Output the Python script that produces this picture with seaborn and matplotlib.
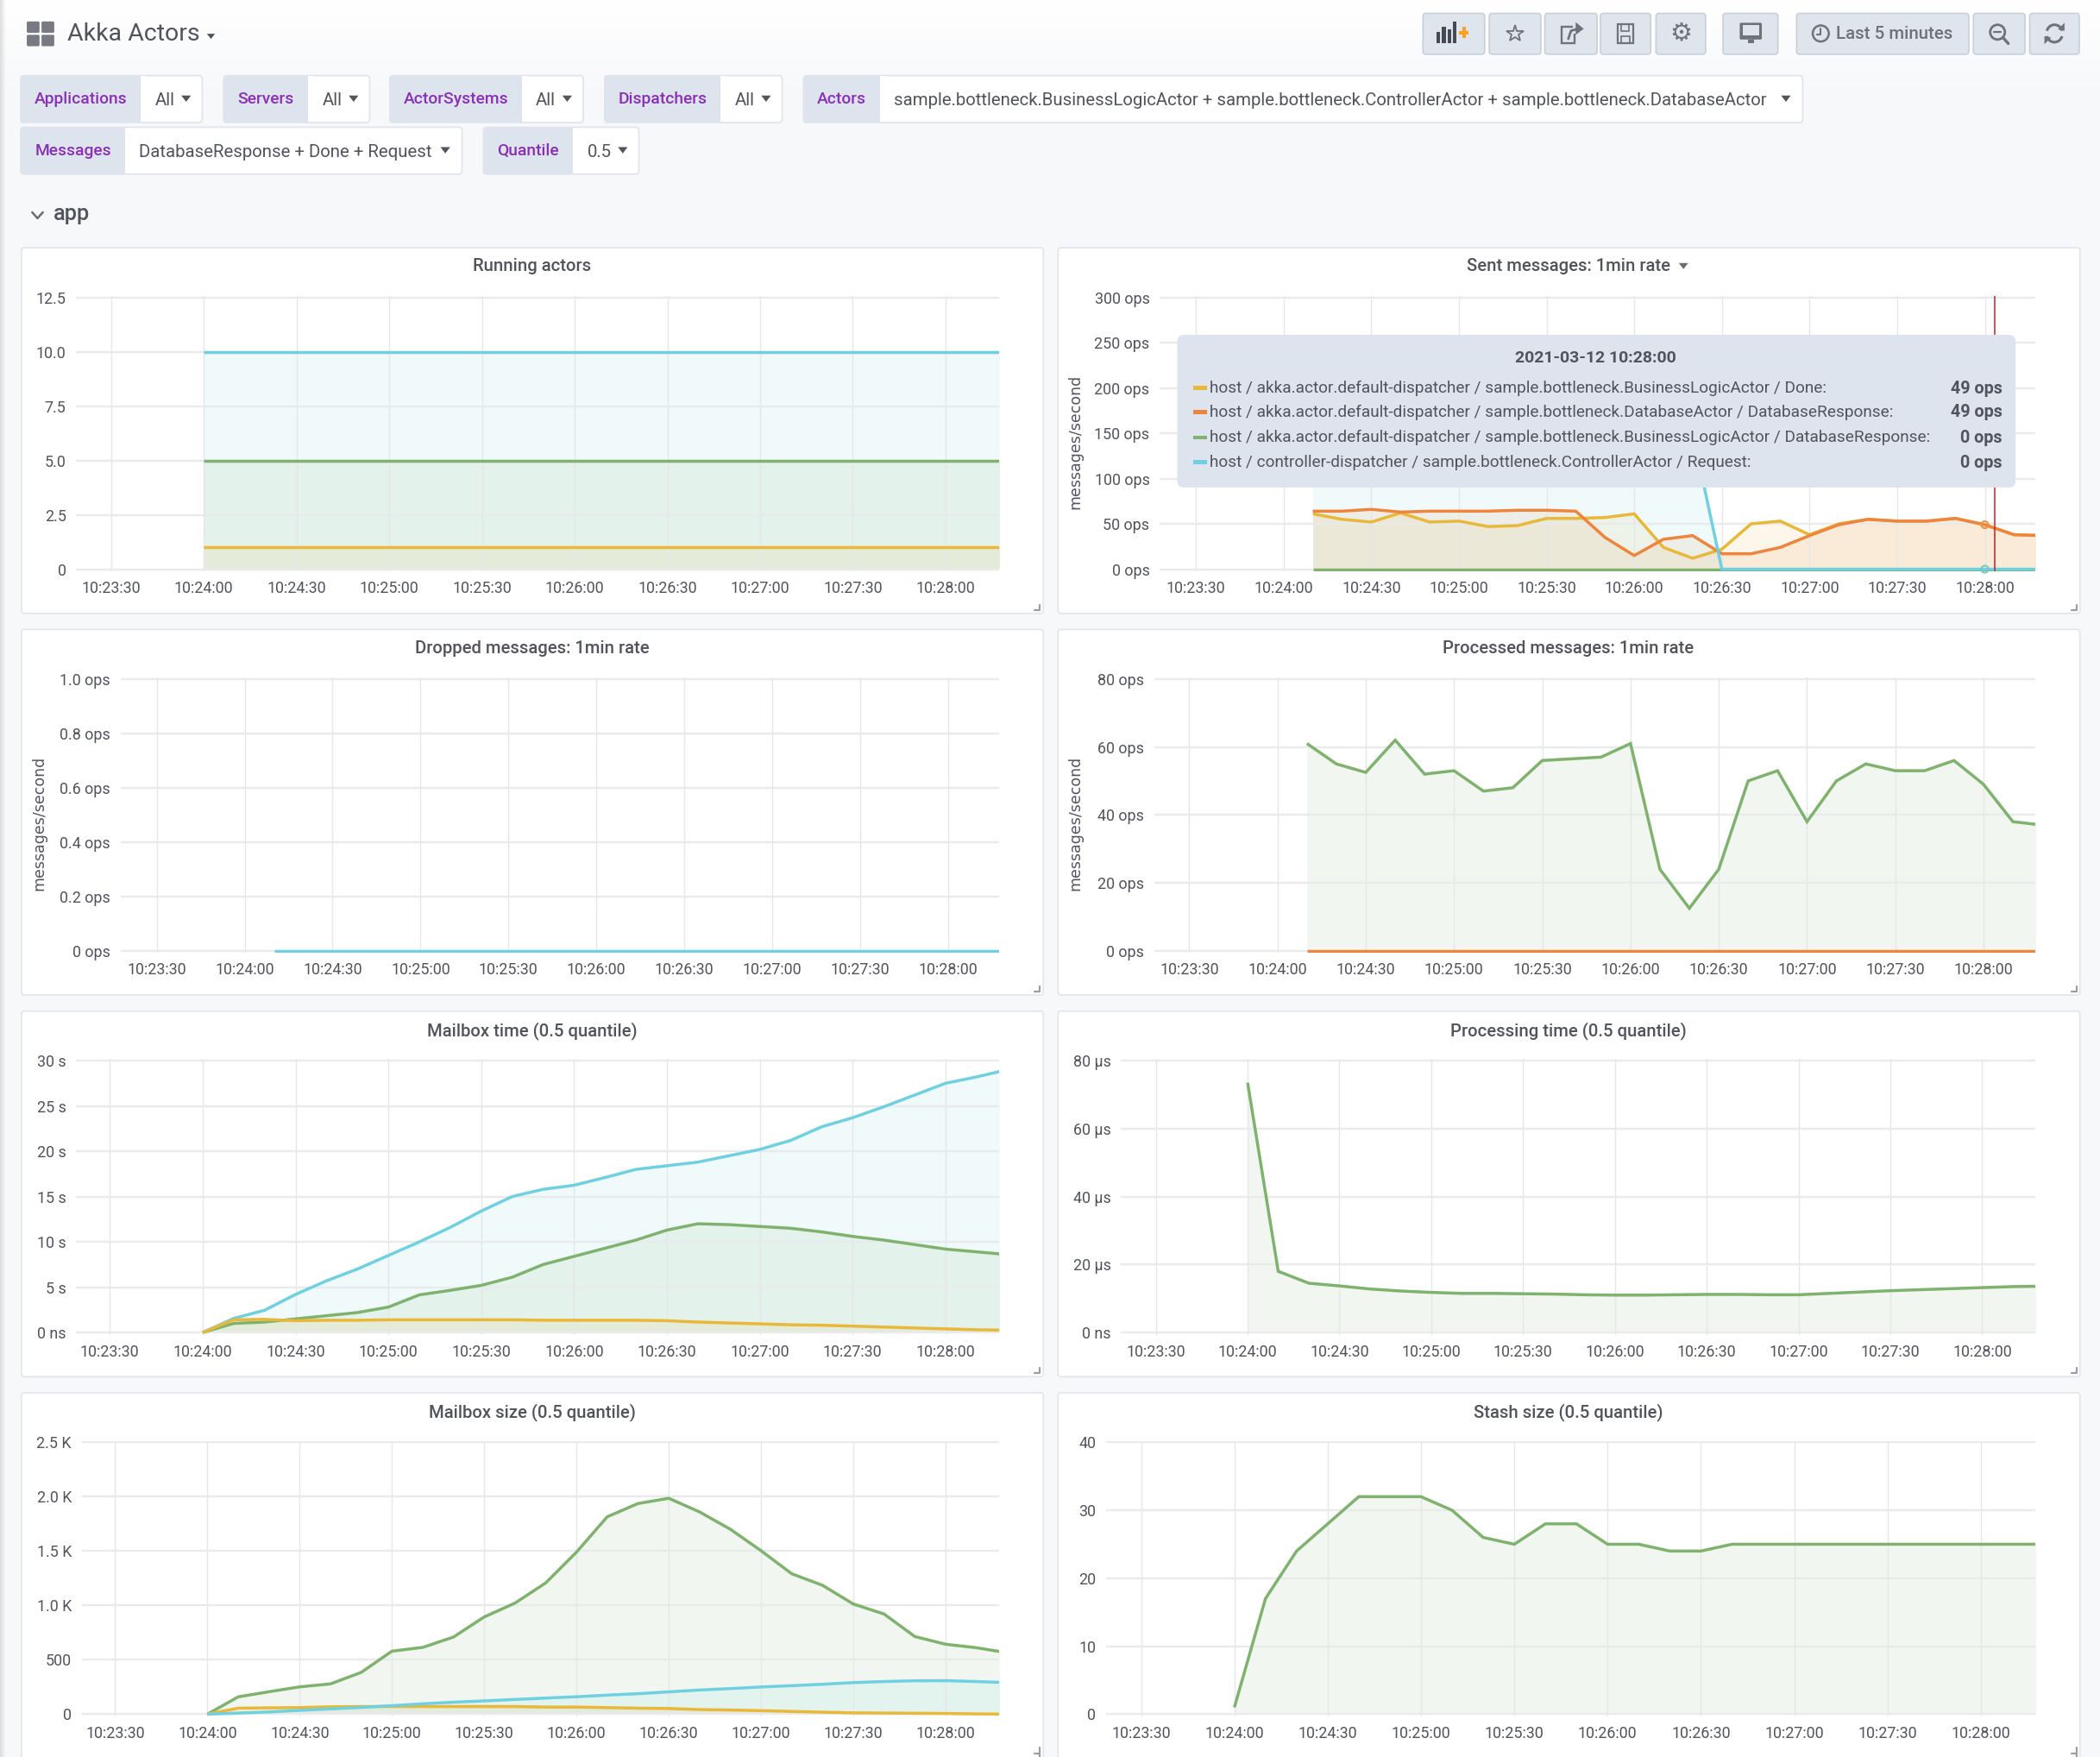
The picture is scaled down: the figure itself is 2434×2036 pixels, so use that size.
import numpy as np
import pandas as pd
import matplotlib
matplotlib.use("Agg")
import matplotlib.pyplot as plt
from matplotlib.patches import FancyBboxPatch, Rectangle, Circle, Arc, Polygon
import seaborn as sns

# ---------- data ----------
tick_seconds = [-30, 0, 30, 60, 90, 120, 150, 180, 210, 240]
tick_labels = ["10:23:30", "10:24:00", "10:24:30", "10:25:00", "10:25:30",
               "10:26:00", "10:26:30", "10:27:00", "10:27:30", "10:28:00"]
t_from_0 = list(range(0, 261, 10))
t_from_10 = list(range(10, 261, 10))

running_cyan = [10] * 27
running_green = [5] * 27
running_yellow = [1] * 27

sent_yellow = [61, 55, 52, 62, 52, 53, 47, 48, 56, 56, 57, 61, 24, 12, 22, 50, 53, 38, 50, 55, 53, 53, 56, 49, 38, 37]
sent_orange = [64, 64, 66, 63, 64, 64, 64, 65, 65, 64, 35, 15, 33, 37, 17, 17, 24, 37, 49, 55, 53, 53, 56, 49, 38, 37]
sent_green = [0] * 26
sent_cyan = [150, 150, 150, 150, 150, 150, 150, 150, 150, 150, 150, 150, 150, 150, 0, 0, 0, 0, 0, 0, 0, 0, 0, 0, 0, 0]

dropped_cyan = [0] * 26

processed_green = [61, 55, 52.5, 62, 52, 53, 47, 48, 56, 56.5, 57, 61, 24, 12.5, 24, 50, 53, 38, 50, 55, 53, 53, 56, 49, 38, 37]
processed_orange = [0] * 26

mbtime_cyan = [0, 1.55, 2.45, 4.2, 5.7, 7, 8.5, 10, 11.6, 13.4, 15, 15.8, 16.25, 17.1, 18, 18.4, 18.8, 19.5, 20.2, 21.2, 22.7, 23.7, 24.9, 26.2, 27.5, 28.2, 29]
mbtime_green = [0, 1.0, 1.15, 1.5, 1.85, 2.2, 2.8, 4.15, 4.65, 5.2, 6.1, 7.5, 8.4, 9.3, 10.2, 11.3, 12, 11.9, 11.7, 11.5, 11.1, 10.6, 10.2, 9.7, 9.2, 8.9, 8.6]
mbtime_yellow = [0, 1.4, 1.45, 1.3, 1.35, 1.35, 1.4, 1.4, 1.4, 1.4, 1.4, 1.35, 1.35, 1.35, 1.35, 1.3, 1.15, 1.05, 0.95, 0.85, 0.8, 0.7, 0.6, 0.5, 0.4, 0.3, 0.25]

proc_green = [73.5, 18, 14.5, 13.7, 12.8, 12.2, 11.8, 11.5, 11.5, 11.4, 11.3, 11.1, 11, 11, 11.1, 11.2, 11.2, 11.1, 11.1, 11.5, 11.9, 12.3, 12.6, 12.9, 13.2, 13.5, 13.6]

mbsize_green = [0, 159, 206, 251, 278, 384, 579, 614, 709, 894, 1021, 1207, 1490, 1815, 1937, 1985, 1860, 1701, 1503, 1291, 1185, 1013, 921, 714, 643, 611, 565]
mbsize_yellow = [0, 55, 58, 60, 68, 70, 70, 70, 70, 70, 70, 65, 65, 60, 55, 52, 42, 38, 32, 25, 18, 12, 10, 8, 6, 2, 0]
mbsize_cyan = [0, 10, 20, 35, 48, 62, 78, 95, 110, 122, 135, 148, 160, 175, 188, 205, 222, 235, 250, 262, 275, 290, 300, 307, 308, 300, 290]

stash_green = [1, 17, 24, 28, 32, 32, 32, 30, 26, 25, 28, 28, 25, 25, 24, 24, 25, 25, 25, 25, 25, 25, 25, 25, 25, 25, 25]

running_ticks = [0, 2.5, 5, 7.5, 10, 12.5]
running_labels = ["0", "2.5", "5.0", "7.5", "10.0", "12.5"]
sent_ticks = [0, 50, 100, 150, 200, 250, 300]
sent_labels = ["0 ops", "50 ops", "100 ops", "150 ops", "200 ops", "250 ops", "300 ops"]
dropped_ticks = [0, 0.2, 0.4, 0.6, 0.8, 1.0]
dropped_labels = ["0 ops", "0.2 ops", "0.4 ops", "0.6 ops", "0.8 ops", "1.0 ops"]
processed_ticks = [0, 20, 40, 60, 80]
processed_labels = ["0 ops", "20 ops", "40 ops", "60 ops", "80 ops"]
mbtime_ticks = [0, 5, 10, 15, 20, 25, 30]
mbtime_labels = ["0 ns", "5 s", "10 s", "15 s", "20 s", "25 s", "30 s"]
proc_ticks = [0, 20, 40, 60, 80]
proc_labels = ["0 ns", "20 µs", "40 µs", "60 µs", "80 µs"]
mbsize_ticks = [0, 500, 1000, 1500, 2000, 2500]
mbsize_labels = ["0", "500", "1.0 K", "1.5 K", "2.0 K", "2.5 K"]
stash_ticks = [0, 10, 20, 30, 40]
stash_labels = ["0", "10", "20", "30", "40"]

tooltip_time = "2021-03-12 10:28:00"
tooltip_names = ["host / akka.actor.default-dispatcher / sample.bottleneck.BusinessLogicActor / Done:",
                 "host / akka.actor.default-dispatcher / sample.bottleneck.DatabaseActor / DatabaseResponse:",
                 "host / akka.actor.default-dispatcher / sample.bottleneck.BusinessLogicActor / DatabaseResponse:",
                 "host / controller-dispatcher / sample.bottleneck.ControllerActor / Request:"]
tooltip_values = ["49 ops", "49 ops", "0 ops", "0 ops"]

YEL, ORA, GRN, CYA = "#EAB839", "#EF843C", "#7EB26D", "#6ED0E0"
TXT = "#52545c"
PURPLE = "#8a2fb8"
WID = "#dde4ed"

# ---------- setup ----------
sns.set_theme(style="white", rc={"axes.axisbelow": "line"})
plt.rcParams["font.family"] = ["Roboto", "DejaVu Sans"]

W, H = 1568.0, 1312.0
fig = plt.figure(figsize=(24.34, 20.36), dpi=100, facecolor="#f7f8fa")

bg = fig.add_axes([0, 0, 1, 1], zorder=-1)
bg.set_axis_off()
grad = np.linspace(0, 1, 64).reshape(-1, 1, 1)
c_top = np.array([1, 1, 1]); c_bot = np.array([0xf7, 0xf8, 0xfa]) / 255
img = c_top * (1 - grad) + c_bot * grad
bg.imshow(img, extent=(0, W, 75, 0), aspect="auto", zorder=0)
sh = np.zeros((1, 16, 4)); sh[..., :3] = 0.75; sh[..., 3] = np.linspace(0.5, 0, 16)
bg.imshow(sh, extent=(0, 4, H, 0), aspect="auto", zorder=0.5)
bg.set_xlim(0, W); bg.set_ylim(H, 0)

top = fig.add_axes([0, 0, 1, 1], zorder=20)
top.set_axis_off(); top.patch.set_alpha(0)
top.set_xlim(0, W); top.set_ylim(H, 0)


def rbox(ax, x0, y0, x1, y1, fc, ec="none", r=2.5, lw=1.2, z=1):
    p = FancyBboxPatch((x0 + r, y0 + r), x1 - x0 - 2 * r, y1 - y0 - 2 * r,
                       boxstyle=f"round,pad={r},rounding_size={r}",
                       fc=fc, ec=ec, lw=lw, zorder=z, mutation_aspect=1)
    ax.add_patch(p)
    return p


def caret(ax, x, y, s=3.5, color=TXT, z=5):
    ax.add_patch(Polygon([(x - s, y - s * 0.6), (x + s, y - s * 0.6), (x, y + s * 0.7)],
                         fc=color, ec="none", zorder=z))


# ---------- header ----------
for (ix, iy) in [(20, 16), (31, 16), (20, 26), (31, 26)]:
    rbox(bg, ix, iy, ix + 9.5, iy + 8.5, "#777a82", r=1, z=3)
bg.text(50, 25.5, "Akka Actors", fontsize=20.5, color=TXT, va="center", ha="left", zorder=5)
caret(bg, 157.5, 27, 3)

widgets = [
    (15.5, 105, 151, 56.5, 91.5, "Applications", "All"),
    (167, 230, 276, 56.5, 91.5, "Servers", "All"),
    (291, 389.5, 435.5, 56.5, 91.5, "ActorSystems", "All"),
    (451.5, 538, 584, 56.5, 91.5, "Dispatchers", "All"),
    (600, 657, 1346, 56.5, 91.5, "Actors",
     "sample.bottleneck.BusinessLogicActor + sample.bottleneck.ControllerActor + sample.bottleneck.DatabaseActor"),
    (15.5, 93.5, 345, 95, 130, "Messages", "DatabaseResponse + Done + Request"),
    (361, 428, 477, 95, 130, "Quantile", "0.5"),
]
for x0, xm, x1, y0, y1, lab, val in widgets:
    rbox(bg, x0, y0, x1, y1, "white", ec=WID, z=2)
    rbox(bg, x0, y0, xm + 3, y1, WID, z=3)
    bg.add_patch(Rectangle((xm, y0 + 0.5), 4, y1 - y0 - 1, fc="white", ec="none", zorder=3.5))
    bg.text((x0 + xm) / 2, (y0 + y1) / 2 + 0.2, lab, fontsize=13.9, color=PURPLE, weight=500,
            ha="center", va="center", zorder=5)
    bg.text(xm + 10.5, (y0 + y1) / 2 + 1, val, fontsize=14.7, color=TXT,
            ha="left", va="center", zorder=5)
    caret(bg, x1 - (12.5 if lab in ("Actors", "Messages") else 12), (y0 + y1) / 2 - 0.5, 3.6)

bg.plot([24, 28, 32], [158.5, 163, 158.5], color="#6b6e76", lw=1.8, zorder=5)
bg.text(40, 159.7, "app", fontsize=18.3, color=TXT, weight=500, ha="left", va="center", zorder=5)

buttons = [(1062.5, 1108.5), (1112, 1150.5), (1153.5, 1192.5), (1195, 1232.5), (1236.5, 1273.5),
           (1286.5, 1327.5), (1341.5, 1470), (1473.5, 1512), (1515.5, 1552.5)]
for x0, x1 in buttons:
    rbox(bg, x0, 10, x1, 40.5, "#dfe5ed", ec="#c7d0d9", r=2, z=2)
ICON = "#6f7279"
ICOND = "#464a52"
# add-panel icon
for bx, bh in [(1074, 8), (1078, 12), (1082, 10), (1086, 16)]:
    bg.add_patch(Rectangle((bx - 1.3, 32 - bh), 2.8, bh, fc=ICOND, ec="none", zorder=5))
bg.add_patch(Rectangle((1089.5, 23), 7, 2.6, fc="#ff9f1c", ec="none", zorder=6))
bg.add_patch(Rectangle((1091.7, 20.2), 2.6, 8.4, fc="#ff9f1c", ec="none", zorder=6))
# star
bg.plot([1131], [25], marker="*", ms=15, mfc="none", mec=ICON, mew=1.3, zorder=5)
# share
bg.add_patch(Rectangle((1166, 20), 10, 12, fc="none", ec=ICON, lw=1.7, zorder=5))
bg.add_patch(Rectangle((1174.5, 17), 5, 8, fc="#dfe5ed", ec="none", zorder=5.2))
bg.plot([1171, 1173, 1178], [29, 23, 21.5], color=ICON, lw=2, zorder=5.4)
bg.add_patch(Polygon([(1176.5, 16.5), (1182.5, 21.5), (1176.5, 26)], fc=ICON, ec="none", zorder=5.4))
# save
bg.add_patch(Rectangle((1208, 18), 11.5, 14, fc="none", ec=ICON, lw=1.6, zorder=5))
bg.add_patch(Rectangle((1210.5, 18), 6, 5, fc="none", ec=ICON, lw=1.2, zorder=5))
bg.add_patch(Rectangle((1210.5, 27), 6.5, 5, fc="none", ec=ICON, lw=1.2, zorder=5))
# gear
bg.text(1255, 25, "⚙", fontsize=21, weight="bold", family="DejaVu Sans", color=ICON, ha="center", va="center", zorder=5)
# monitor
rbox(bg, 1299, 17, 1315.5, 29.5, ICON, r=1, z=5)
bg.add_patch(Rectangle((1301, 18.5), 12.5, 8, fc="#dfe5ed", ec="none", zorder=5.5))
bg.add_patch(Rectangle((1305, 29.5), 4.5, 3, fc=ICON, ec="none", zorder=5))
# clock
bg.add_patch(Circle((1359.5, 25), 6, fc="none", ec=ICON, lw=1.8, zorder=5))
bg.plot([1359.5, 1359.5, 1356.5], [21, 26, 26], color=ICON, lw=1.5, zorder=5)
bg.text(1371, 25.5, "Last 5 minutes", fontsize=14.7, color=ICON, weight=500, ha="left", va="center", zorder=5)
# zoom out
bg.add_patch(Circle((1491.5, 24), 5.5, fc="none", ec=ICON, lw=2, zorder=5))
bg.plot([1495.5, 1499.5], [28, 32.5], color=ICON, lw=2.4, zorder=5)
bg.plot([1489, 1494], [24, 24], color=ICON, lw=1.6, zorder=5)
# refresh
bg.add_patch(Arc((1534, 25), 12, 13, theta1=20, theta2=160, ec=ICON, lw=2.2, zorder=5))
bg.add_patch(Arc((1534, 25), 12, 13, theta1=200, theta2=340, ec=ICON, lw=2.2, zorder=5))
bg.add_patch(Polygon([(1536.5, 22), (1541.5, 17), (1541.5, 23)], fc=ICON, ec="none", zorder=5))
bg.add_patch(Polygon([(1531.5, 28), (1526.5, 33), (1526.5, 27)], fc=ICON, ec="none", zorder=5))

# ---------- panels ----------
panel_rows = [(185, 458), (470, 743), (755, 1028), (1040, 1330)]
panel_cols = [(16, 779), (790, 1553)]
for (py0, py1) in panel_rows:
    for (px0, px1) in panel_cols:
        rbox(bg, px0, py0, px1, py1, "white", ec="#e1e5ec", r=2, z=1)
        if py1 < H:
            bg.plot([px1 - 6.5, px1 - 2.5, px1 - 2.5], [py1 - 2.5, py1 - 2.5, py1 - 6.5],
                    color="#9a9da3", lw=1.6, zorder=3)
        else:
            bg.plot([px1 - 2.5, px1 - 2.5], [1305, 1312], color="#9a9da3", lw=1.6, zorder=3)
            bg.plot([px1 - 6.5, px1 - 2.5], [1309.5, 1309.5], color="#9a9da3", lw=1.6, zorder=3)


def panel(title, left, right, x_m30, x_240, ytop, ybot, ymax, yticks, ylabels, times, series):
    """series: list of (name, values, colour) in drawing order."""
    k = (x_240 - x_m30) / 270.0
    x0 = x_m30 + 30 * k
    units = ymax / (ybot - ytop)
    pad_b, pad_t = 1.6, 1.0
    ax = fig.add_axes([left / W, 1 - (ybot + pad_b) / H, (right - left) / W,
                       (ybot - ytop + pad_b + pad_t) / H], zorder=5)
    ax.patch.set_alpha(0)
    df = pd.concat([pd.DataFrame({"t": times, "v": vals, "series": name}) for name, vals, _ in series])
    pal = {name: col for name, _, col in series}
    for name, vals, col in series:
        ax.fill_between(times, 0, vals, color=col, alpha=0.1, lw=0, zorder=1)
    sns.lineplot(data=df, x="t", y="v", hue="series", palette=pal, hue_order=list(pal),
                 estimator=None, sort=False, legend=False, linewidth=2.5, ax=ax, zorder=3)
    for ln in ax.get_lines():
        ln.set_solid_joinstyle("miter"); ln.set_solid_capstyle("butt")
    ax.set_xlim((left - x0) / k, (right - x0) / k)
    ax.set_ylim(-pad_b * units, ymax + pad_t * units)
    ax.set_xticks(tick_seconds, tick_labels)
    ax.set_yticks(yticks, ylabels)
    ax.set_xlabel(""); ax.set_ylabel("")
    ax.tick_params(axis="both", length=0, labelsize=12.9, labelcolor=TXT)
    ax.tick_params(axis="x", pad=8)
    ax.tick_params(axis="y", pad=8.5)
    ax.grid(True, axis="y", color="#e9eaec", lw=1.7)
    ax.grid(True, axis="x", color="#e5e6e9", lw=1.0)
    for s in ax.spines.values():
        s.set_visible(False)
    return ax


t0 = panel("Running actors", 57, 746, 83, 706, 222, 425, 12.5, running_ticks, running_labels, t_from_0,
           [("cyan", running_cyan, CYA), ("green", running_green, GRN), ("yellow", running_yellow, YEL)])
t1 = panel("Sent", 866, 1520, 893, 1482, 222, 425, 300, sent_ticks, sent_labels, t_from_10,
           [("yellow", sent_yellow, YEL), ("orange", sent_orange, ORA),
            ("green", sent_green, GRN), ("cyan", sent_cyan, CYA)])
t1.axvline(243.4, color="#c4222a", lw=1.1, zorder=4)
idx = t_from_10.index(240)
t1.scatter([240, 240], [sent_yellow[idx], sent_orange[idx]], s=34, facecolors="none",
           edgecolors=[YEL, ORA], linewidths=1.4, alpha=0.75, zorder=5)
t1.scatter([240, 240], [sent_green[idx], sent_cyan[idx]], s=34, facecolors="none",
           edgecolors=[GRN, CYA], linewidths=1.4, alpha=0.75, zorder=5, clip_on=False)
panel("Dropped", 90, 746, 117, 708, 507, 710, 1.0, dropped_ticks, dropped_labels, t_from_10,
      [("cyan", dropped_cyan, CYA)])
panel("Processed", 862, 1520, 888, 1481, 507, 710, 80, processed_ticks, processed_labels, t_from_10,
      [("green", processed_green, GRN), ("orange", processed_orange, ORA)])
panel("Mailbox time", 57, 746, 82, 706, 792, 995, 30, mbtime_ticks, mbtime_labels, t_from_0,
      [("cyan", mbtime_cyan, CYA), ("green", mbtime_green, GRN), ("yellow", mbtime_yellow, YEL)])
panel("Processing", 837, 1520, 863, 1480, 792, 995, 80, proc_ticks, proc_labels, t_from_0,
      [("green", proc_green, GRN)])
panel("Mailbox size", 61, 746, 86, 706, 1077, 1280, 2500, mbsize_ticks, mbsize_labels, t_from_0,
      [("green", mbsize_green, GRN), ("yellow", mbsize_yellow, YEL), ("cyan", mbsize_cyan, CYA)])
panel("Stash", 826, 1520, 852, 1479, 1077, 1280, 40, stash_ticks, stash_labels, t_from_0,
      [("green", stash_green, GRN)])

# ---------- titles ----------
titles = [(397.5, 199, "Running actors"), (1171, 199, "Sent messages: 1min rate"),
          (397.5, 484, "Dropped messages: 1min rate"), (1171, 484, "Processed messages: 1min rate"),
          (397.5, 769.5, "Mailbox time (0.5 quantile)"), (1171, 769.5, "Processing time (0.5 quantile)"),
          (397.5, 1054.5, "Mailbox size (0.5 quantile)"), (1171, 1054.5, "Stash size (0.5 quantile)")]
for x, y, s in titles:
    bg.text(x, y, s, fontsize=14.6, color=TXT, weight=500, ha="center", va="center", zorder=5)
caret(bg, 1257, 198.5, 3.5, color="#6b6e76")

for x, y in [(803, 330), (29, 615), (803, 615)]:
    bg.text(x, y, "messages/second", fontsize=12.5, family="DejaVu Sans", color=TXT, rotation=90,
            ha="center", va="center", zorder=5)

# ---------- tooltip ----------
rbox(top, 879, 250, 1505, 364, WID, r=5, z=1)
top.text(1191.5, 267.5, tooltip_time, fontsize=14, weight="bold", color=TXT, ha="center", va="center", zorder=3)
row_y = [290, 308, 327, 345.5]
for y, name, val, col in zip(row_y, tooltip_names, tooltip_values, [YEL, ORA, GRN, CYA]):
    top.add_patch(Rectangle((891, y - 1.8), 10, 2.8, fc=col, ec="none", zorder=3))
    top.text(903.5, y, name, fontsize=13.7, color=TXT, ha="left", va="center", zorder=3)
    top.text(1495, y, val, fontsize=14.2, weight="bold", color=TXT, ha="right", va="center", zorder=3)

fig.savefig("out.png", dpi=100, facecolor=fig.get_facecolor())
